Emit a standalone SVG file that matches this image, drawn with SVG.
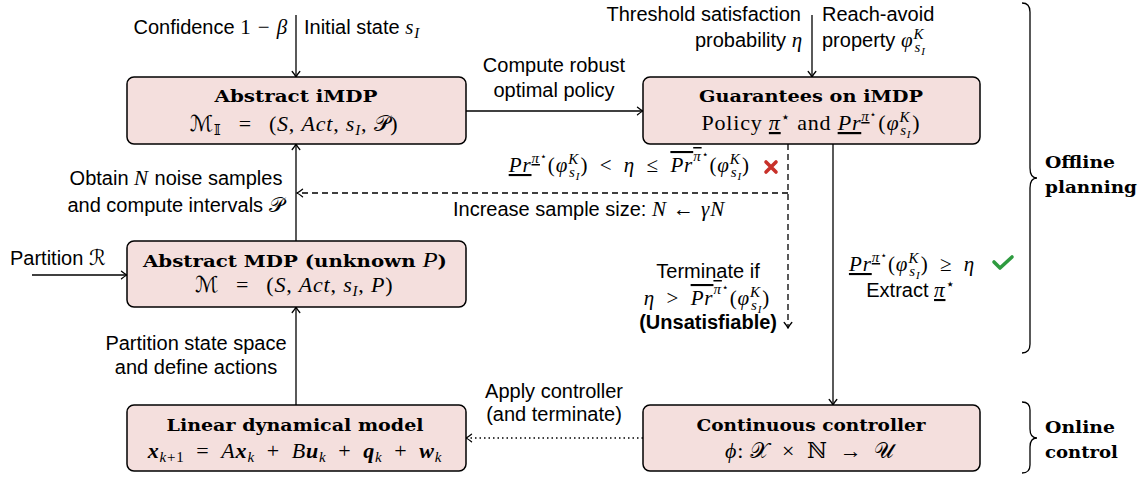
<svg xmlns="http://www.w3.org/2000/svg" width="1146" height="477" viewBox="0 0 1146 477">
<style>
.box{fill:#f4dfdd;stroke:#000;stroke-width:1.5}
.t{font-family:"DejaVu Serif",serif;font-weight:bold;font-size:17.5px;fill:#000}
.l{font-family:"Liberation Sans",Arial,sans-serif;font-size:20px;fill:#000}
.lb{font-family:"Liberation Sans",Arial,sans-serif;font-size:20px;font-weight:bold;fill:#000}
.m{font-family:"Liberation Serif","DejaVu Serif","DejaVu Sans",serif;font-size:22px;letter-spacing:0.8px;fill:#000}
.mm{font-family:"Liberation Serif","DejaVu Serif","DejaVu Sans",serif;font-size:21px;letter-spacing:0.9px}
.i{font-style:italic}
.b{font-weight:bold}
.s{font-size:15px}
.ss{font-size:11px}
.ul{text-decoration:underline}
.ol{text-decoration:overline}
.c{fill:none;stroke:#000;stroke-width:1.3}
.d{stroke-dasharray:6 4}
.o{stroke-dasharray:1.5 3}
</style>
<defs>
<marker id="ah" viewBox="-7 -5 8 10" refX="0" refY="0" markerWidth="8" markerHeight="10" orient="auto" markerUnits="userSpaceOnUse">
<path d="M-5.5,-3.8 Q-2,-0.9 0,0 Q-2,0.9 -5.5,3.8" fill="none" stroke="#000" stroke-width="1.3" stroke-linecap="round"/>
</marker>
</defs>

<g id="connectors">
<path class="c" d="M296,15 V77" marker-end="url(#ah)"/>
<path class="c" d="M812,15 V77" marker-end="url(#ah)"/>
<path class="c" d="M466,111 H643" marker-end="url(#ah)"/>
<path class="c" d="M296,241 V144" marker-end="url(#ah)"/>
<path class="c" d="M296,405 V307" marker-end="url(#ah)"/>
<path class="c" d="M32,275 H127" marker-end="url(#ah)"/>
<path class="c d" d="M788,144 V328" marker-end="url(#ah)"/>
<path class="c d" d="M788,193 H297" marker-end="url(#ah)"/>
<path class="c" d="M833,144 V405" marker-end="url(#ah)"/>
<path class="c o" d="M643,438 H466" marker-end="url(#ah)"/>
</g>

<g id="labels">
<text class="l" x="288" y="34" text-anchor="end">Confidence <tspan class="mm">1 − </tspan><tspan class="mm i">β</tspan></text>
<text class="l" x="304" y="34">Initial state <tspan class="mm i">s</tspan><tspan class="mm i s" dy="4">I</tspan></text>
<text class="l" x="801" y="21" text-anchor="end">Threshold satisfaction</text>
<text class="l" x="803" y="47" text-anchor="end">probability <tspan class="mm i">η</tspan></text>
<text class="l" x="822" y="21">Reach-avoid</text>
<text class="l" x="822" y="47">property <tspan class="mm i">φ</tspan><tspan class="mm i s" dy="-8">K</tspan><tspan class="mm i s" dx="-10" dy="13">s</tspan><tspan class="mm i ss" dy="3">I</tspan></text>
<text class="l" x="554" y="72" text-anchor="middle">Compute robust</text>
<text class="l" x="554" y="97" text-anchor="middle">optimal policy</text>
<text class="l" x="176" y="185" text-anchor="middle">Obtain <tspan class="mm i">N</tspan> noise samples</text>
<text class="l" x="176" y="212" text-anchor="middle">and compute intervals <tspan class="mm">𝒫</tspan></text>
<text class="l" x="10" y="265">Partition <tspan class="mm">ℛ</tspan></text>
<text class="l" x="196" y="350" text-anchor="middle">Partition state space</text>
<text class="l" x="196" y="374" text-anchor="middle">and define actions</text>
<text class="l" x="554" y="398" text-anchor="middle">Apply controller</text>
<text class="l" x="554" y="421" text-anchor="middle">(and terminate)</text>

<text class="mm" x="750" y="172" text-anchor="end"><tspan class="i ul">Pr</tspan><tspan class="s i ul" dy="-9">π</tspan><tspan class="ss" dy="-3">⋆</tspan><tspan dy="12">(</tspan><tspan class="i">φ</tspan><tspan class="s i" dy="-8">K</tspan><tspan class="s i" dx="-10" dy="13">s</tspan><tspan class="ss i" dy="3">I</tspan><tspan dy="-8">)&#8194;&lt;&#8194;</tspan><tspan class="i">η</tspan>&#8194;≤&#8194;<tspan class="i ol">Pr</tspan><tspan class="s i ol" dy="-11">π</tspan><tspan class="ss" dy="-3">⋆</tspan><tspan dy="14">(</tspan><tspan class="i">φ</tspan><tspan class="s i" dy="-8">K</tspan><tspan class="s i" dx="-10" dy="13">s</tspan><tspan class="ss i" dy="3">I</tspan><tspan dy="-8">)</tspan></text>
<path d="M766,162 L776,172 M776,162 L766,172" stroke="#c8312a" stroke-width="3.6" stroke-linecap="round" fill="none"/>
<text class="l" x="453" y="216">Increase sample size: <tspan class="mm i">N</tspan><tspan class="mm"> ← </tspan><tspan class="mm i">γN</tspan></text>

<text class="l" x="708" y="278" text-anchor="middle">Terminate if</text>
<text class="mm" x="707" y="305" text-anchor="middle"><tspan class="i">η</tspan>&#8194;&gt;&#8194;<tspan class="i ol">Pr</tspan><tspan class="s i ol" dy="-11">π</tspan><tspan class="ss" dy="-3">⋆</tspan><tspan dy="14">(</tspan><tspan class="i">φ</tspan><tspan class="s i" dy="-8">K</tspan><tspan class="s i" dx="-10" dy="13">s</tspan><tspan class="ss i" dy="3">I</tspan><tspan dy="-8">)</tspan></text>
<text class="lb" x="777" y="329" text-anchor="end">(Unsatisfiable)</text>

<text class="mm" x="912" y="271" text-anchor="middle"><tspan class="i ul">Pr</tspan><tspan class="s i ul" dy="-9">π</tspan><tspan class="ss" dy="-3">⋆</tspan><tspan dy="12">(</tspan><tspan class="i">φ</tspan><tspan class="s i" dy="-8">K</tspan><tspan class="s i" dx="-10" dy="13">s</tspan><tspan class="ss i" dy="3">I</tspan><tspan dy="-8">)&#8194;≥&#8194;</tspan><tspan class="i">η</tspan></text>
<path d="M994,262 L1000,268 L1012,257" stroke="#2e9b3f" stroke-width="3.6" stroke-linecap="round" stroke-linejoin="round" fill="none"/>
<text class="l" x="911" y="297" text-anchor="middle">Extract <tspan class="mm i ul">π</tspan><tspan class="mm s" dy="-8">⋆</tspan></text>
</g>

<g id="n-imdp">
<rect class="box" x="127" y="77" width="339" height="67" rx="7"/>
<text class="t" x="296" y="102" text-anchor="middle" textLength="163" lengthAdjust="spacingAndGlyphs">Abstract iMDP</text>
<text class="m" x="294" y="131" text-anchor="middle">ℳ<tspan class="s" dy="4">𝕀</tspan><tspan dy="-4">&#8194;&#8201;=&#8194;&#8201;(</tspan><tspan class="i">S</tspan>, <tspan class="i">Act</tspan>, <tspan class="i">s</tspan><tspan class="s i" dy="4">I</tspan><tspan dy="-4">, 𝒫)</tspan></text>
</g>

<g id="n-guarantees">
<rect class="box" x="643" y="77" width="337" height="67" rx="7"/>
<text class="t" x="811" y="102" text-anchor="middle" textLength="224" lengthAdjust="spacingAndGlyphs">Guarantees on iMDP</text>
<text class="m" x="811" y="130" text-anchor="middle">Policy <tspan class="i ul">π</tspan><tspan class="s" dy="-8">⋆</tspan><tspan dy="8"> and </tspan><tspan class="i ul">Pr</tspan><tspan class="s i ul" dy="-9">π</tspan><tspan class="ss" dy="-3">⋆</tspan><tspan dy="12" dx="1">(</tspan><tspan class="i">φ</tspan><tspan class="s i" dy="-8">K</tspan><tspan class="s i" dx="-10" dy="13">s</tspan><tspan class="ss i" dy="3">I</tspan><tspan dy="-8" dx="1">)</tspan></text>
</g>

<g id="n-mdp">
<rect class="box" x="127" y="241" width="339" height="66" rx="7"/>
<text class="t" x="295" y="267" text-anchor="middle" textLength="304" lengthAdjust="spacingAndGlyphs">Abstract MDP (unknown <tspan class="m i" style="font-weight:normal;letter-spacing:0">P</tspan>)</text>
<text class="m" x="294" y="292" text-anchor="middle">ℳ&#8194;&#8201;=&#8194;&#8201;(<tspan class="i">S</tspan>, <tspan class="i">Act</tspan>, <tspan class="i">s</tspan><tspan class="s i" dy="4">I</tspan><tspan dy="-4">, </tspan><tspan class="i">P</tspan>)</text>
</g>

<g id="n-linear">
<rect class="box" x="127" y="405" width="339" height="66" rx="7"/>
<text class="t" x="295" y="431" text-anchor="middle" textLength="257" lengthAdjust="spacingAndGlyphs">Linear dynamical model</text>
<text class="m" x="295" y="458" text-anchor="middle"><tspan class="i b">x</tspan><tspan class="s i" dy="4">k</tspan><tspan class="s">+1</tspan><tspan dy="-4">&#8194;=&#8194;</tspan><tspan class="i">A</tspan><tspan class="i b">x</tspan><tspan class="s i" dy="4">k</tspan><tspan dy="-4">&#8194;+&#8194;</tspan><tspan class="i">B</tspan><tspan class="i b">u</tspan><tspan class="s i" dy="4">k</tspan><tspan dy="-4">&#8194;+&#8194;</tspan><tspan class="i b">q</tspan><tspan class="s i" dy="4">k</tspan><tspan dy="-4">&#8194;+&#8194;</tspan><tspan class="i b">w</tspan><tspan class="s i" dy="4">k</tspan></text>
</g>

<g id="n-controller">
<rect class="box" x="643" y="405" width="337" height="66" rx="7"/>
<text class="t" x="811" y="431" text-anchor="middle" textLength="229" lengthAdjust="spacingAndGlyphs">Continuous controller</text>
<text class="m" x="810" y="458" text-anchor="middle"><tspan class="i">ϕ</tspan>: 𝒳&#8194;×&#8194;ℕ&#8194;→&#8194;𝒰</text>
</g>

<g id="braces">
<path class="c" d="M1022,3 Q1030,3 1030,12 V168 Q1030,178 1037,178 Q1030,178 1030,188 V344 Q1030,353 1022,353"/>
<text class="t" x="1045" y="168" textLength="70" lengthAdjust="spacingAndGlyphs">Offline</text>
<text class="t" x="1045" y="193" textLength="92" lengthAdjust="spacingAndGlyphs">planning</text>
<path class="c" d="M1022,402 Q1030,402 1030,410 V429 Q1030,438 1037,438 Q1030,438 1030,447 V465 Q1030,473 1022,473"/>
<text class="t" x="1045" y="433" textLength="70" lengthAdjust="spacingAndGlyphs">Online</text>
<text class="t" x="1045" y="458" textLength="73" lengthAdjust="spacingAndGlyphs">control</text>
</g>
</svg>
